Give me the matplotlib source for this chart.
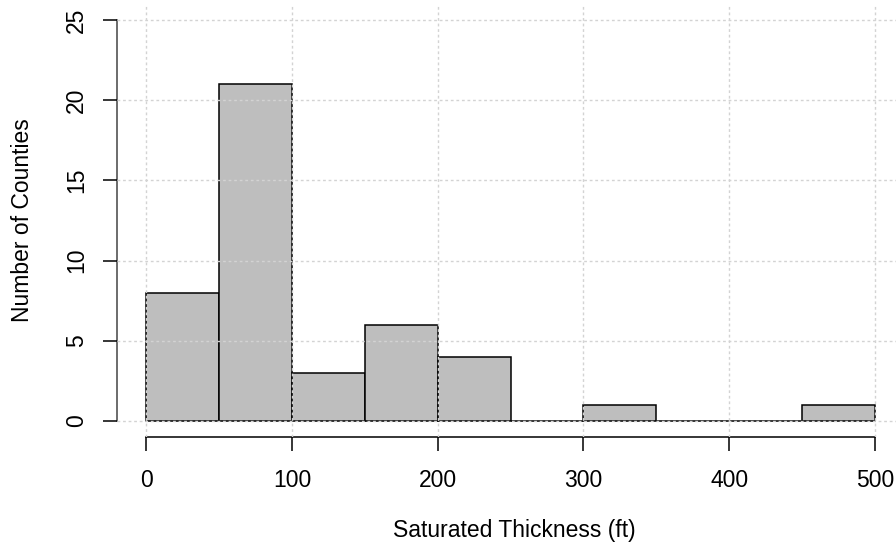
import matplotlib
matplotlib.use("Agg")
import matplotlib.pyplot as plt
import numpy as np

plt.rcParams['font.family'] = ['Liberation Sans', 'DejaVu Sans']

# histogram bins (ft) and counts
bin_edges = [0, 50, 100, 150, 200, 250, 300, 350, 400, 450, 500]
counts = [8, 21, 3, 6, 4, 0, 1, 0, 0, 1]
x_ticks = [0, 100, 200, 300, 400, 500]
y_ticks = [0, 5, 10, 15, 20, 25]

fig = plt.figure(figsize=(8.96, 5.46), dpi=100)
# R-style plot region (extends slightly past the right edge)
ax = fig.add_axes([117/896, 1 - 437/546, (904-117)/896, (437-4)/546])

left = np.array(bin_edges[:-1])
widths = np.diff(bin_edges)
ax.bar(left, counts, width=widths, align='edge', color='#bebebe',
       edgecolor='black', linewidth=1.1, zorder=2)

ax.set_xlim(-20, 520)
ax.set_ylim(-1, 26)
ax.set_xticks(x_ticks)
ax.set_yticks(y_ticks)
ax.grid(True, color='#d3d3d3', linestyle=(0, (2, 2)), linewidth=1, zorder=3)
ax.set_axisbelow(False)

for s in ['top', 'right']:
    ax.spines[s].set_visible(False)
ax.spines['left'].set_bounds(0, 25)
ax.spines['bottom'].set_bounds(0, 500)
ax.spines['left'].set_color('#444444')
ax.spines['bottom'].set_color('black')
ax.spines['left'].set_linewidth(1.1)
ax.spines['bottom'].set_linewidth(1.1)

ax.tick_params(axis='both', direction='out', length=10, width=1.1,
               labelsize=16.5, colors='black')
ax.tick_params(axis='x', pad=13)
ax.tick_params(axis='y', pad=11, labelrotation=90)
for lab in ax.get_yticklabels():
    lab.set_va('center')

ax.set_xlabel('Saturated Thickness (ft)', fontsize=16.5)
ax.set_ylabel('Number of Counties', fontsize=16.5)
ax.xaxis.set_label_coords((514 - 117) / 787, (437 - 531) / 433)
ax.xaxis.label.set_va('center')
ax.yaxis.set_label_coords((22 - 117) / 787, (437 - 220) / 433)
ax.yaxis.label.set_va('center')

fig.savefig('out.png', dpi=100)
